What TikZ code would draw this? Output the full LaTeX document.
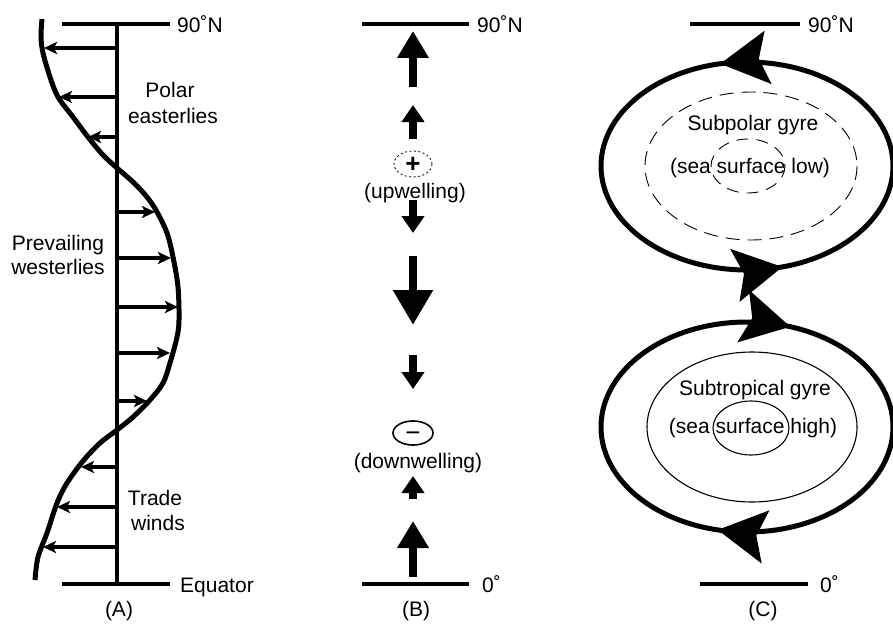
\documentclass[tikz,border=0pt]{standalone}
\usepackage{fontspec}
\setmainfont{Liberation Sans}
\usetikzlibrary{arrows.meta,shapes.geometric,decorations.markings}

\begin{document}
\begin{tikzpicture}[x=1pt,y=-1pt,
    every node/.style={font=\fontsize{21}{25}\selectfont, inner sep=0pt},
    latline/.style={line width=4.3pt},
    windarr/.style={line width=4pt,-{Stealth[length=13pt,width=12pt,inset=3pt]}},
    ekman/.style={line width=8.5pt,-{Triangle[length=17pt,width=22pt]}},
    ekmanbig/.style={line width=8.5pt,-{Triangle[length=27pt,width=30pt]}},
    sign/.style={ellipse, draw, text height=17pt, text depth=0pt, font=\fontsize{26}{26}\selectfont},
    gyrehead/.tip={Stealth[length=48pt,width=53pt,inset=9pt]},
    gyrecw/.style 2 args={line width=5pt, postaction={decorate}, decoration={markings,
        mark=at position #1 with {\arrow{gyrehead}},
        mark=at position #2 with {\arrow{gyrehead}}}},
    gyreccw/.style 2 args={line width=5pt, postaction={decorate}, decoration={markings,
        mark=at position #1 with {\arrowreversed{gyrehead}},
        mark=at position #2 with {\arrowreversed{gyrehead}}}},
    contour/.style={line width=1.1pt},
    dcontour/.style={line width=0.9pt, dash pattern=on 14pt off 8pt}]
\useasboundingbox (0,0) rectangle (893,623);

% (A) winds
\coordinate (anw) at (62,24);  \coordinate (ane) at (170,24);
\coordinate (asw) at (62,584); \coordinate (ase) at (170,584);
\coordinate (atop) at (117,24); \coordinate (abot) at (117,584);
\draw[latline] (anw) -- (ane);
\draw[latline] (asw) -- (ase);
\draw[latline] (atop) -- (abot);
\node[anchor=west] (anorth) at (177,24) {90˚N};
\node[anchor=base west] (aeq) at (180,592) {Equator};
\node[anchor=base] (alab) at (119,616) {(A)};
\draw[line width=5pt] plot[smooth, tension=0.55] coordinates {(42,19) (41,37) (43,53) (50,77)
    (58,97) (73,117) (88,137) (103,155) (117,168) (133,182) (147,197) (157,212) (167,233)
    (173,257) (178,287) (179,320) (177,337) (170,363) (163,383) (150,400) (133,417) (117,430)
    (100,443) (83,461) (67,483) (57,503) (47,533) (38,557) (35,580)};
\foreach \y/\x [count=\i] in {48/44,97/59,137/88,212/155,258/171,307/178,353/170,401/147,467/81,507/57,547/43}{
    \coordinate (w\i a) at (117,\y);
    \coordinate (w\i b) at (\x,\y);
    \draw[windarr] (w\i a) -- (w\i b);
}
\node[anchor=base] (polar) at (170,98) {Polar};
\node[anchor=base] (easter) at (173,123) {easterlies};
\node[anchor=base] (prev) at (58,250) {Prevailing};
\node[anchor=base] (wester) at (58,274) {westerlies};
\node[anchor=base] (trade) at (155,505) {Trade};
\node[anchor=base] (winds) at (158,530) {winds};

% (B) Ekman pumping
\coordinate (bnw) at (362,24);  \coordinate (bne) at (469,24);
\coordinate (bsw) at (362,584); \coordinate (bse) at (469,584);
\draw[latline] (bnw) -- (bne);
\draw[latline] (bsw) -- (bse);
\node[anchor=west] (bnorth) at (477,24) {90˚N};
\node[anchor=west] (bzero) at (482,584) {0˚};
\node[anchor=base] (blab) at (416,616) {(B)};
\foreach \ya/\yb/\st [count=\i] in {87/31/ekmanbig,139/105/ekman,200/233/ekman,355/389/ekman,499/476/ekman,577/521/ekmanbig}{
    \coordinate (e\i a) at (413,\ya);
    \coordinate (e\i b) at (413,\yb);
    \draw[\st] (e\i a) -- (e\i b);
}
\coordinate (e7a) at (413,256); \coordinate (e7b) at (413,325);
\draw[line width=8.5pt,-{Triangle[length=35pt,width=38pt]}] (e7a) -- (e7b);
\node[sign, line width=0.8pt, dash pattern=on 2pt off 2.5pt,
    minimum width=38pt, minimum height=26pt] (plus) at (413,164) {\bfseries +};
\node[anchor=base] (upw) at (415,198) {(upwelling)};
\node[sign, line width=1.6pt, minimum width=40pt, minimum height=23pt] (minus) at (413,433) {−};
\node[anchor=base] (downw) at (418,468) {(downwelling)};

% (C) gyres
\coordinate (cnw) at (690,24);  \coordinate (cne) at (800,24);
\coordinate (csw) at (700,584); \coordinate (cse) at (808,584);
\draw[latline] (cnw) -- (cne);
\draw[latline] (csw) -- (cse);
\node[anchor=west] (cnorth) at (808,24) {90˚N};
\node[anchor=west] (czero) at (820,584) {0˚};
\node[anchor=base] (clab) at (763,616) {(C)};
\draw[gyreccw={0.205}{0.716}] (747,166) ellipse [x radius=146, y radius=104];
\draw[dcontour] (751,166) ellipse [x radius=106, y radius=74];
\draw[dcontour, dash pattern=on 12pt off 8pt] (748,166) ellipse [x radius=37, y radius=27];
\node[anchor=base] (subpol) at (753,130) {Subpolar gyre};
\node[anchor=base] (low) at (750,173) {(sea surface low)};
\draw[gyrecw={0.287}{0.805}] (747,427) ellipse [x radius=146, y radius=105];
\draw[contour] (752,427) ellipse [x radius=105, y radius=75];
\draw[contour] (751,428) ellipse [x radius=38, y radius=27];
\node[anchor=base] (subtrop) at (755,395) {Subtropical gyre};
\node[anchor=base] (high) at (753,433) {(sea surface high)};
\end{tikzpicture}
\end{document}
